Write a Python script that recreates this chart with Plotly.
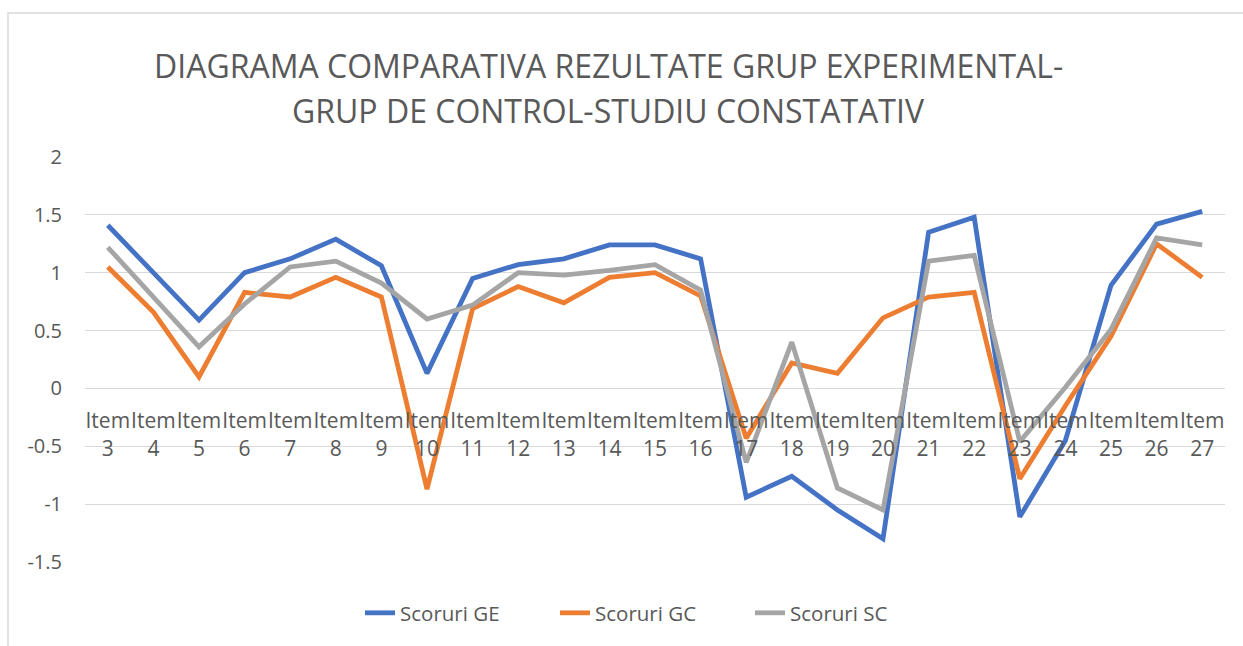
import plotly.graph_objects as go

# Item numbers on the category axis
items = list(range(3, 28))
tick_labels = [f"Item<br>{n}" for n in items]

# Value axis ticks (hyphen-minus labels)
y_ticks = [-1.5, -1.0, -0.5, 0.0, 0.5, 1.0, 1.5, 2.0]
y_tick_text = ["-1.5", "-1", "-0.5", "0", "0.5", "1", "1.5", "2"]

# Scores per item for the three groups
scoruri_ge = [1.41, 1.00, 0.59, 1.00, 1.12, 1.29, 1.06, 0.13, 0.95, 1.07, 1.12, 1.24, 1.24, 1.12,
              -0.94, -0.76, -1.05, -1.30, 1.35, 1.48, -1.11, -0.45, 0.89, 1.42, 1.53]
scoruri_gc = [1.05, 0.66, 0.10, 0.83, 0.79, 0.96, 0.79, -0.87, 0.69, 0.88, 0.74, 0.96, 1.00, 0.80,
              -0.43, 0.22, 0.13, 0.61, 0.79, 0.83, -0.78, -0.15, 0.45, 1.25, 0.96]
scoruri_sc = [1.22, 0.79, 0.36, 0.73, 1.05, 1.10, 0.91, 0.60, 0.72, 1.00, 0.98, 1.02, 1.07, 0.85,
              -0.64, 0.40, -0.86, -1.05, 1.10, 1.15, -0.46, 0.01, 0.51, 1.30, 1.24]

series = [
    ("Scoruri GE", scoruri_ge, "#4472C4"),
    ("Scoruri GC", scoruri_gc, "#ED7D31"),
    ("Scoruri SC", scoruri_sc, "#A5A5A5"),
]

title_lines = [
    "DIAGRAMA COMPARATIVA REZULTATE GRUP EXPERIMENTAL-",
    "GRUP DE CONTROL-STUDIU CONSTATATIV",
]

TEXT = "#595959"
GRID = "#D9D9D9"
FONT = "Open Sans"

fig = go.Figure()
for name, vals, color in series:
    fig.add_trace(go.Scatter(
        x=tick_labels, y=vals, name=name, mode="lines",
        line=dict(color=color, width=4.8),
    ))

Y_MIN, Y_MAX = -1.5, 2.0
PLOT_LEFT, PLOT_W = 85, 1140
PLOT_TOP, PLOT_H = 157, 405


def paper_y(py):
    """Convert a pixel row into paper coordinates of the plot area."""
    return (PLOT_TOP + PLOT_H - py) / PLOT_H


def paper_x(px):
    """Convert a pixel column into paper coordinates of the plot area."""
    return (px - PLOT_LEFT) / PLOT_W


title_annots = [
    dict(text=t, xref="paper", yref="paper", x=paper_x(608), y=paper_y(py),
         xanchor="center", yanchor="middle", showarrow=False,
         font=dict(family=FONT, size=32, color=TEXT))
    for t, py in zip(title_lines, [66, 110])
]

fig.update_layout(
    width=1243, height=646,
    margin=dict(l=PLOT_LEFT, r=1243 - PLOT_LEFT - PLOT_W, t=PLOT_TOP,
                b=646 - PLOT_TOP - PLOT_H),
    paper_bgcolor="white", plot_bgcolor="white",
    font=dict(family=FONT, color=TEXT),
    showlegend=True,
    legend=dict(
        orientation="h", x=paper_x(360), xanchor="left", y=paper_y(613), yanchor="middle",
        font=dict(size=20.5, color=TEXT), entrywidth=150, entrywidthmode="pixels",
    ),
    xaxis=dict(
        type="category", anchor="free", range=[-0.5, len(items) - 0.5],
        position=(0 - Y_MIN) / (Y_MAX - Y_MIN),
        showgrid=False, zeroline=False, showline=False,
        ticks="", tickfont=dict(size=21, color=TEXT),
        tickangle=0, ticklabelstandoff=18,
    ),
    yaxis=dict(
        range=[Y_MIN, Y_MAX], tickvals=y_ticks, ticktext=y_tick_text,
        showgrid=True, gridcolor=GRID, gridwidth=1.3,
        zeroline=False, showline=False,
        ticks="", tickfont=dict(size=20, color=TEXT),
        ticklabelstandoff=22,
    ),
    annotations=title_annots,
    shapes=[dict(
        type="rect", xref="paper", yref="paper",
        x0=paper_x(8), x1=paper_x(1260),
        y0=paper_y(660), y1=paper_y(13),
        line=dict(color=GRID, width=1.5), fillcolor="rgba(0,0,0,0)", layer="below",
    )],
)

fig.write_html("out.html")
